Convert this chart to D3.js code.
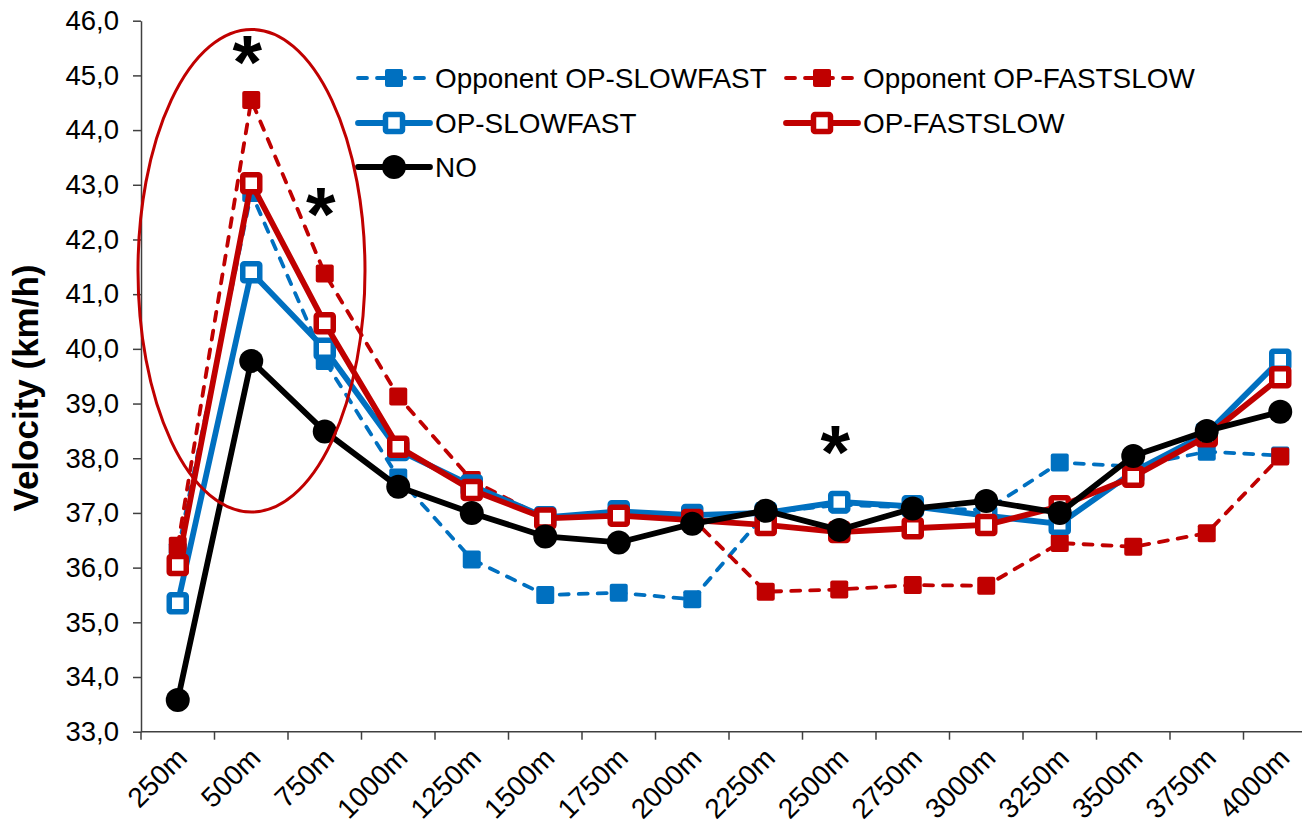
<!DOCTYPE html>
<html>
<head>
<meta charset="utf-8">
<script src="https://cdn.jsdelivr.net/npm/d3@7/dist/d3.min.js"></script>
<style>
  html, body { margin: 0; padding: 0; background: #fff; }
  svg { display: block; font-family: "Liberation Sans", Arial, sans-serif; }
</style>
</head>
<body>
<svg id="chart" width="1302" height="826"></svg>
<script>
// Split distances along the race
const categories = ["250m", "500m", "750m", "1000m", "1250m", "1500m", "1750m", "2000m",
                    "2250m", "2500m", "2750m", "3000m", "3250m", "3500m", "3750m", "4000m"];

// Velocity (km/h) per split
const oppSlowFast = [36.3, 42.85, 39.78, 37.65, 36.15, 35.5, 35.54, 35.42,
                     37.0, 37.15, 37.1, 37.05, 37.92, 37.85, 38.12, 38.05];
const oppFastSlow = [36.4, 44.55, 41.38, 39.13, 37.6, 36.9, 36.95, 36.9,
                     35.56, 35.6, 35.68, 35.67, 36.45, 36.38, 36.63, 38.03];
const opSlowFast  = [35.35, 41.4, 40.0, 38.15, 37.5, 36.92, 37.03, 36.96,
                     37.0, 37.2, 37.12, 36.95, 36.8, 37.75, 38.45, 39.8];
const opFastSlow  = [36.05, 43.03, 40.47, 38.21, 37.42, 36.9, 36.95, 36.87,
                     36.78, 36.65, 36.72, 36.78, 37.12, 37.66, 38.4, 39.48];
const noOpponent  = [33.58, 39.78, 38.49, 37.48, 37.0, 36.57, 36.46, 36.8,
                     37.04, 36.69, 37.08, 37.22, 37.0, 38.04, 38.5, 38.85];

const yTicks = d3.range(33, 46.5, 1);

// Splits marked as significant (asterisk centre, in km/h units)
const significant = [
  { cat: "500m", v: 45.43 },
  { cat: "750m", v: 42.65 },
  { cat: "2500m", v: 38.3 }
];

const BLUE = "#0070C0", RED = "#C00000", BLACK = "#000000";

const series = [
  { name: "Opponent OP-SLOWFAST", values: oppSlowFast, color: BLUE, dashed: true, marker: "filled" },
  { name: "Opponent OP-FASTSLOW", values: oppFastSlow, color: RED, dashed: true, marker: "filled" },
  { name: "OP-SLOWFAST", values: opSlowFast, color: BLUE, dashed: false, marker: "open" },
  { name: "OP-FASTSLOW", values: opFastSlow, color: RED, dashed: false, marker: "open" },
  { name: "NO", values: noOpponent, color: BLACK, dashed: false, marker: "circle" }
];

const svg = d3.select("#chart");

const x = d3.scaleBand().domain(categories).range([141, 141 + 16 * 73.5]).paddingInner(0).paddingOuter(0);
const y = d3.scaleLinear().domain([33, 46]).range([731.7, 20.7]);
const cx = c => x(c) + x.bandwidth() / 2;

const fmt = v => d3.format(".1f")(v).replace(".", ",");

// Y axis
const yAxis = svg.append("g")
  .attr("transform", `translate(${x.range()[0]},0)`)
  .call(d3.axisLeft(y).tickValues(yTicks).tickFormat(fmt).tickSize(8).tickSizeOuter(0).tickPadding(14));
yAxis.select(".domain").attr("stroke", "#404040").attr("stroke-width", 1.5);
yAxis.selectAll(".tick line").attr("stroke", "#404040").attr("stroke-width", 1.5);
yAxis.selectAll(".tick text").attr("font-size", "27.5px").attr("fill", "#000")
  .attr("font-family", "Liberation Sans, Arial, sans-serif");

// X axis: ticks between categories, labels at centres
const xg = svg.append("g");
xg.append("line")
  .attr("x1", x.range()[0]).attr("x2", x.range()[1])
  .attr("y1", y(33)).attr("y2", y(33))
  .attr("stroke", "#404040").attr("stroke-width", 1.5);
xg.selectAll("line.tick").data(categories).join("line")
  .attr("class", "tick")
  .attr("x1", d => x(d)).attr("x2", d => x(d))
  .attr("y1", y(33)).attr("y2", y(33) + 8)
  .attr("stroke", "#404040").attr("stroke-width", 1.5);
xg.selectAll("text").data(categories).join("text")
  .attr("transform", d => `translate(${cx(d) + 11},${y(33) + 28}) rotate(-45)`)
  .attr("text-anchor", "end")
  .attr("font-size", "28px")
  .attr("fill", "#000")
  .text(d => d);

// Y axis title
svg.append("text")
  .attr("transform", `translate(38,388) rotate(-90)`)
  .attr("text-anchor", "middle")
  .attr("font-size", "35px")
  .attr("font-weight", "bold")
  .text("Velocity (km/h)");

// Series
const line = d3.line().x((v, i) => cx(categories[i])).y(v => y(v));

function drawMarker(g, m, color, px, py) {
  if (m === "filled") {
    g.append("rect").attr("x", px - 9).attr("y", py - 9).attr("width", 18).attr("height", 18)
      .attr("rx", 2).attr("fill", color);
  } else if (m === "open") {
    g.append("rect").attr("x", px - 8.5).attr("y", py - 8.5).attr("width", 17).attr("height", 17)
      .attr("rx", 1.5).attr("fill", "#fff").attr("stroke", color).attr("stroke-width", 5.5);
  } else {
    g.append("circle").attr("cx", px).attr("cy", py).attr("r", 12).attr("fill", color);
  }
}

series.forEach(s => {
  const g = svg.append("g");
  g.append("path")
    .datum(s.values)
    .attr("d", line)
    .attr("fill", "none")
    .attr("stroke", s.color)
    .attr("stroke-width", s.dashed ? 3.8 : 5.8)
    .attr("stroke-linejoin", "round")
    .attr("stroke-linecap", "round")
    .attr("stroke-dasharray", s.dashed ? "9,10" : null);
  s.values.forEach((v, i) => drawMarker(g, s.marker, s.color, cx(categories[i]), y(v)));
});

// Legend
const legendPos = [
  { lx: 358, ly: 78 }, { lx: 786, ly: 78 },
  { lx: 358, ly: 123 }, { lx: 786, ly: 123 },
  { lx: 358, ly: 167 }
];
series.forEach((s, i) => {
  const p = legendPos[i];
  const g = svg.append("g");
  g.append("line")
    .attr("x1", p.lx).attr("x2", p.lx + 72).attr("y1", p.ly).attr("y2", p.ly)
    .attr("stroke", s.color)
    .attr("stroke-width", s.dashed ? 3.8 : 5.8)
    .attr("stroke-linecap", "round")
    .attr("stroke-dasharray", s.dashed ? "9,10" : null);
  drawMarker(g, s.marker, s.color, p.lx + 36, p.ly);
  g.append("text")
    .attr("x", p.lx + 77).attr("y", p.ly + 10)
    .attr("font-size", "27.9px")
    .attr("fill", "#000")
    .text(s.name);
});

// Highlight ellipse around the opening splits
svg.append("ellipse")
  .attr("cx", 251.5).attr("cy", 270.7).attr("rx", 113.5).attr("ry", 241.3)
  .attr("fill", "none").attr("stroke", RED).attr("stroke-width", 3);

// Significance markers
svg.selectAll("text.sig").data(significant).join("text")
  .attr("class", "sig")
  .attr("x", d => cx(d.cat) - 4)
  .attr("y", d => y(d.v) + 36)
  .attr("text-anchor", "middle")
  .attr("font-size", "76px")
  .attr("font-weight", "bold")
  .text("*");
</script>
</body>
</html>
